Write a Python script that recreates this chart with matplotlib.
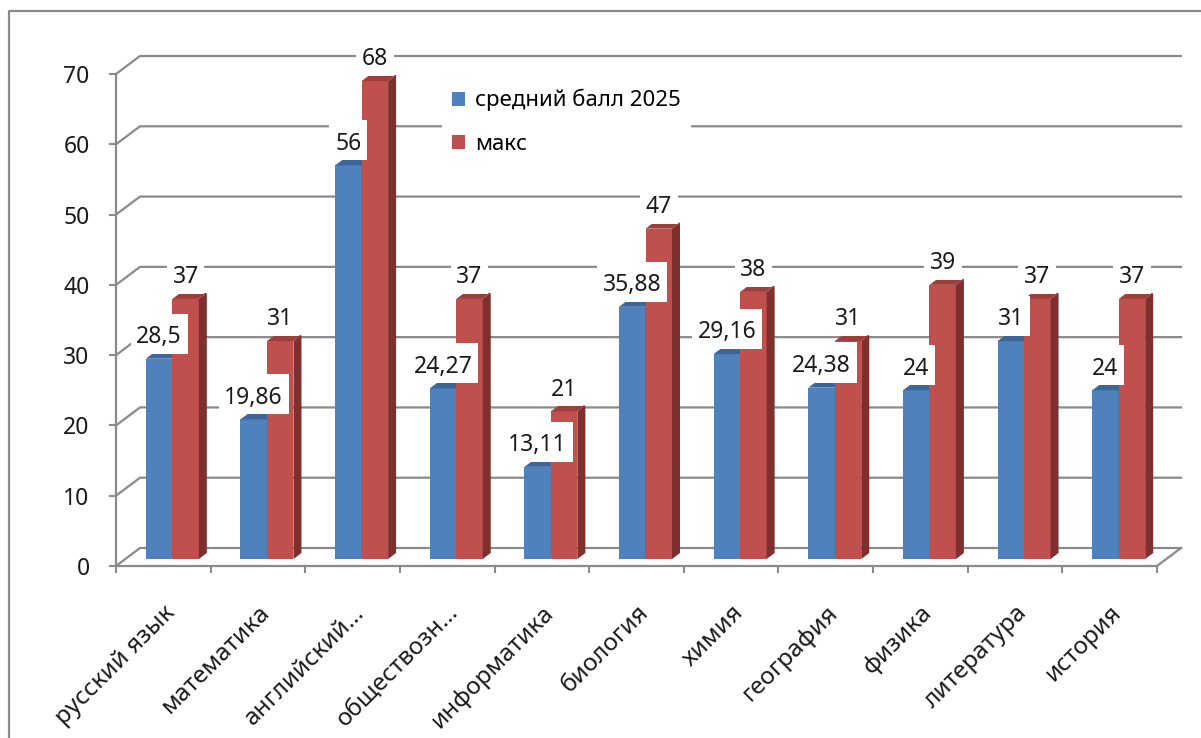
import numpy as np
import matplotlib.pyplot as plt
from matplotlib.patches import Polygon, Patch
from matplotlib.path import Path
from matplotlib.lines import Line2D

plt.rcParams['font.family'] = ['Noto Sans', 'DejaVu Sans']

# Данные
categories = ['русский язык', 'математика', 'английский…', 'обществозн…',
              'информатика', 'биология', 'химия', 'география', 'физика',
              'литература', 'история']
avg_2025 = [28.5, 19.86, 56, 24.27, 13.11, 35.88, 29.16, 24.38, 24, 31, 24]
max_score = [37, 31, 68, 37, 21, 47, 38, 31, 39, 37, 37]
series_names = ['средний балл 2025', 'макс']
y_ticks = [0, 10, 20, 30, 40, 50, 60, 70]

# Цвета
BLUE, BLUE_TOP = '#4f81bd', '#3b6699'
RED, RED_TOP, RED_SIDE = '#c0504d', '#a03e3c', '#7e302e'
GRID = '#8a8a8a'
TXT = '#1a1a1a'

fig = plt.figure(figsize=(12.01, 7.38), dpi=100)
ax = fig.add_axes([116 / 1201, 172 / 738, 1041 / 1201, 492 / 738])
ax.set_xlim(-0.5, len(categories) - 0.5)
ax.set_ylim(0, 70)

# псевдо-3D смещения (в единицах данных)
KX = 1041 / len(categories)   # px на категорию
KY = 492 / 70                 # px на единицу
BX, BY = 24 / KX, 18 / KY     # задняя стенка
PX, PY = 9 / KX, 7 / KY       # плоскость столбцов
DX, DY = 8 / KX, 6 / KY       # глубина столбца
W = 0.28

idx = np.arange(len(categories))
x_end = len(categories) - 0.5

# сетка на задней стенке
for v in y_ticks:
    ax.plot([-0.5, -0.5 + BX, x_end + BX], [v, v + BY, v + BY],
            color=GRID, lw=1.6, clip_on=False, zorder=1)
ax.plot([x_end, x_end + BX], [0, BY], color=GRID, lw=1.6, clip_on=False, zorder=1)


def draw_bars(left, values, front, top, side, z):
    ax.bar(left, values, width=W, bottom=PY, align='edge', color=front,
           zorder=z, clip_on=False)
    for L, v in zip(left, values):
        R, T = L + W, PY + v
        ax.add_patch(Polygon([(L, T), (R, T), (R + DX, T + DY), (L + DX, T + DY)],
                             closed=True, fc=top, ec='none', zorder=z, clip_on=False))
        ax.add_patch(Polygon([(R, PY), (R + DX, PY + DY), (R + DX, T + DY), (R, T)],
                             closed=True, fc=side, ec='none', zorder=z, clip_on=False))


draw_bars(idx - W + PX, avg_2025, BLUE, BLUE_TOP, BLUE_TOP, 3)
draw_bars(idx + PX, max_score, RED, RED_TOP, RED_SIDE, 4)


def label_box(x0, y0, width, height, mutation_size):
    sx = 0.25 * mutation_size
    x1, x2 = x0 - sx, x0 + width + sx
    y1, y2 = y0 - 0.2 * mutation_size, y0 + height + 0.5 * mutation_size
    return Path([(x1, y1), (x2, y1), (x2, y2), (x1, y2), (x1, y1)], closed=True)


def fmt(v):
    return f'{v:g}'.replace('.', ',')


for left, values in [(idx - W + PX, avg_2025), (idx + PX, max_score)]:
    for L, v in zip(left, values):
        ax.annotate(fmt(v), (L + W / 2, v + PY + DY), xytext=(0, 7),
                    textcoords='offset points', ha='center', va='baseline',
                    fontsize=16.5, color=TXT, zorder=6, annotation_clip=False,
                    bbox=dict(boxstyle=label_box, fc='white', ec='none'))

# оси
for s in ['top', 'right']:
    ax.spines[s].set_visible(False)
for s in ['left', 'bottom']:
    ax.spines[s].set_color(GRID)
    ax.spines[s].set_linewidth(1.6)
ax.set_facecolor('none')

ax.set_yticks(y_ticks)
ax.tick_params(axis='y', direction='out', length=5, width=1.5, color=GRID,
               labelsize=16.5, labelcolor=TXT, pad=14)

ax.set_xticks(np.arange(-0.5, len(categories)), [''] * (len(categories) + 1))
ax.tick_params(axis='x', which='major', direction='out', length=5, width=1.5, color=GRID)
ax.set_xticks(idx, categories, minor=True)
ax.tick_params(axis='x', which='minor', length=0, pad=25, labelsize=17.5, labelcolor=TXT)
for lbl in ax.get_xticklabels(minor=True):
    lbl.set_rotation(45)
    lbl.set_ha('right')
    lbl.set_rotation_mode('anchor')

# легенда
handles = [Patch(fc=BLUE), Patch(fc=RED)]
ax.legend(handles, series_names, loc='upper left',
          bbox_to_anchor=(442 / 1201, 1 - 79 / 738), bbox_transform=fig.transFigure,
          frameon=True, fancybox=False, edgecolor='none', facecolor='white',
          framealpha=1, fontsize=16, handlelength=0.6, handleheight=0.6,
          handletextpad=0.45, labelspacing=1.0, borderpad=0.45, borderaxespad=0)

# рамка диаграммы
fig.add_artist(Line2D([9 / 1201, 9 / 1201, 1], [0, 1 - 11 / 738, 1 - 11 / 738],
                      transform=fig.transFigure, color=GRID, lw=1.6))

fig.savefig('out.png', dpi=100)
